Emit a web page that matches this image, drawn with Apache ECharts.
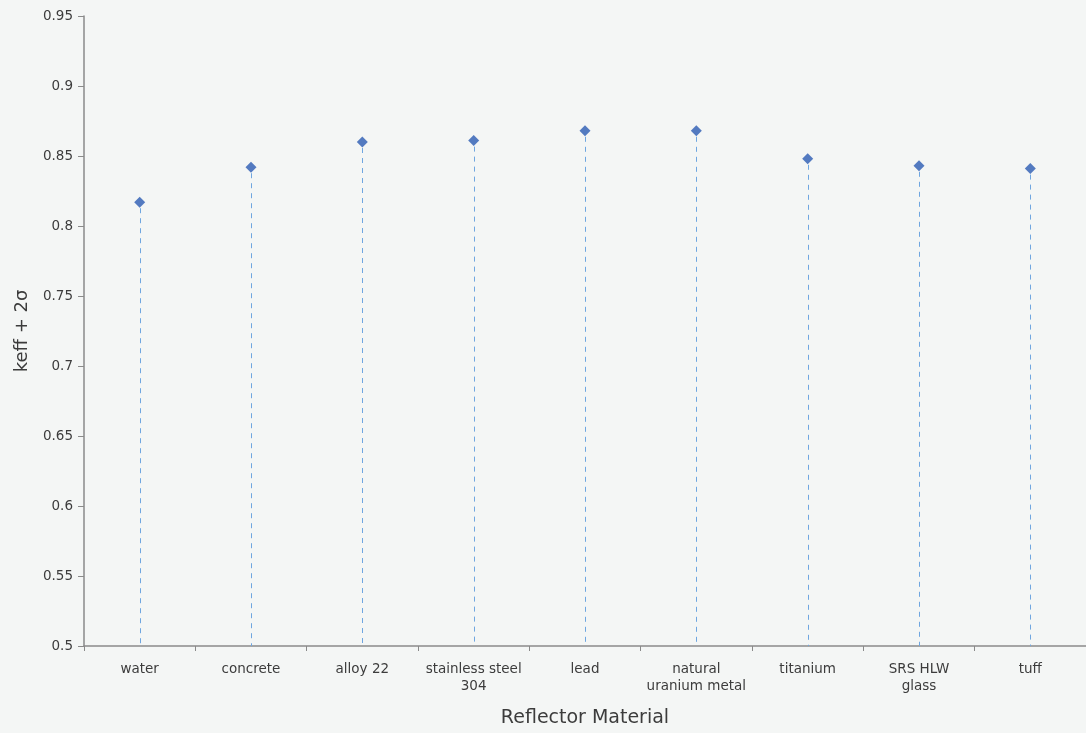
<!DOCTYPE html>
<html>
<head>
<meta charset="utf-8">
<script src="https://cdn.jsdelivr.net/npm/echarts@6/dist/echarts.min.js"></script>
<style>html,body{margin:0;padding:0;background:#f4f6f5;}#c{width:1086px;height:733px;}</style>
</head>
<body>
<div id="c"></div>
<script>
const categories = ['water', 'concrete', 'alloy 22', 'stainless steel\n304', 'lead', 'natural\nuranium metal', 'titanium', 'SRS HLW\nglass', 'tuff'];
const keffValues = [0.817, 0.842, 0.860, 0.861, 0.868, 0.868, 0.848, 0.843, 0.841];
const yTicks = { min: 0.5, max: 0.95, interval: 0.05 };

const FONT = 'DejaVu Sans';
const chart = echarts.init(document.getElementById('c'));
chart.setOption({
  backgroundColor: '#f4f6f5',
  animation: false,
  grid: { left: 84, right: -4, top: 16, bottom: 87 },
  xAxis: {
    type: 'category',
    data: categories,
    boundaryGap: true,
    name: 'Reflector Material',
    nameLocation: 'middle',
    nameGap: 63,
    nameTextStyle: { fontFamily: FONT, fontSize: 19, color: '#3c3c3c' },
    axisLine: { lineStyle: { color: '#8a8a8a', width: 1.5 } },
    axisTick: { show: true, length: 5, lineStyle: { color: '#8a8a8a' } },
    axisLabel: { fontFamily: FONT, fontSize: 13.5, color: '#3c3c3c', margin: 15, lineHeight: 17, interval: 0 },
    splitLine: { show: false }
  },
  yAxis: {
    type: 'value',
    min: yTicks.min,
    max: yTicks.max,
    interval: yTicks.interval,
    name: 'keff + 2σ',
    nameLocation: 'middle',
    nameGap: 53,
    nameTextStyle: { fontFamily: FONT, fontSize: 18, color: '#3c3c3c' },
    axisLine: { show: true, lineStyle: { color: '#8a8a8a', width: 1.5 } },
    axisTick: { show: true, length: 6, lineStyle: { color: '#8a8a8a' } },
    axisLabel: { fontFamily: FONT, fontSize: 13.5, color: '#3c3c3c', margin: 11 },
    splitLine: { show: false }
  },
  series: [{
    type: 'custom',
    data: keffValues.map((v, i) => [i, v]),
    silent: true,
    z: 2,
    renderItem: function (params, api) {
      const top = api.coord([api.value(0), api.value(1)]);
      const bottom = api.coord([api.value(0), yTicks.min]);
      const x = Math.round(top[0]) + 0.5;
      return {
        type: 'line',
        shape: { x1: x, y1: top[1] + 6, x2: x, y2: bottom[1] },
        style: { stroke: '#6fa6e0', lineWidth: 1, lineDash: [5, 5] }
      };
    }
  }, {
    type: 'scatter',
    data: keffValues,
    symbol: 'diamond',
    symbolSize: 11,
    itemStyle: { color: '#2a5bb3' },
    z: 5
  }]
});
</script>
</body>
</html>
